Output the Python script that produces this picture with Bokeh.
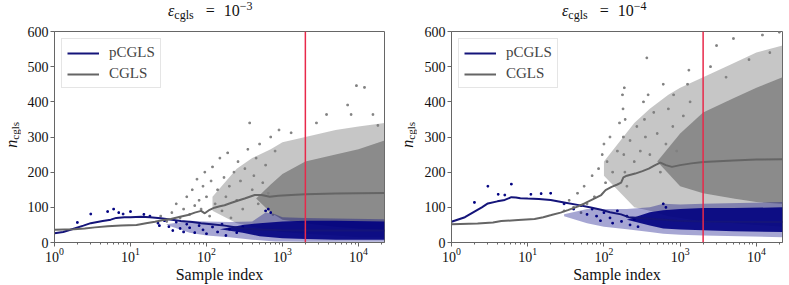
from bokeh.plotting import figure
from bokeh.layouts import row, column
from bokeh.models import Range1d, FixedTicker, LogTickFormatter, Span, Legend, LegendItem, Div
from bokeh.embed import file_html
from bokeh.resources import INLINE

FONT = "Liberation Serif"
X_MIN, X_MAX = 1, 22000
RED_X = 2000
X_TICKS = [1, 10, 100, 1000, 10000]
Y_TICKS = [0, 100, 200, 300, 400, 500, 600]
TITLE_EXP = ["\u22123", "\u22124"]
X_LABEL = "Sample index"

# ---------------- Panel A: eps = 1e-3 ----------------
a_cgls_x = [1, 1.8, 2.5, 3.4, 5, 7.5, 12, 16, 21, 27, 34, 45, 57, 70, 85, 95, 110, 127, 150, 173, 200, 250, 318, 432, 530, 680, 880, 1300, 2000, 5000, 10000, 22000]
a_cgls_y = [36, 38, 40, 43, 46, 48, 50, 55, 59, 64, 67, 73, 78, 85, 90, 83, 93, 99, 103, 106, 111, 118, 125, 135, 135, 130, 133, 135, 137, 139, 140, 141]
a_pcgls_x = [1, 1.3, 1.83, 2.4, 3, 4.3, 5.5, 6.5, 8.3, 10, 13.8, 18, 25, 35, 46, 65, 85, 116, 173, 250, 318, 500, 1000, 2000, 5000, 22000]
a_pcgls_y = [26, 30, 40, 48, 55, 61, 65, 70, 72, 72, 73, 72, 69, 65, 61, 58, 55, 52, 48, 43, 40, 37, 35, 34, 34, 34]

a_gray_outer_x = [120, 250, 400, 700, 1000, 2000, 5000, 10000, 22000]
a_gray_outer_lo = [90, 55, 45, 35, 30, 25, 20, 15, 15]
a_gray_outer_hi = [130, 210, 240, 265, 285, 300, 320, 330, 340]
a_gray_core_x = [450, 700, 1000, 2000, 5000, 10000, 22000]
a_gray_core_lo = [125, 85, 65, 55, 45, 40, 35]
a_gray_core_hi = [125, 165, 195, 230, 250, 265, 290]
a_blue_outer_x = [30, 60, 100, 200, 400, 600, 800, 1000, 2000, 22000]
a_blue_outer_lo = [50, 28, 20, 15, 8, 5, 3, 3, 2, 2]
a_blue_outer_hi = [52, 62, 60, 58, 60, 85, 80, 72, 70, 66]
a_blue_core_x = [150, 300, 500, 1000, 2000, 5000, 22000]
a_blue_core_lo = [38, 28, 18, 12, 10, 8, 8]
a_blue_core_hi = [38, 50, 55, 60, 62, 62, 60]

a_gray_pts_x = [25, 30, 35, 40, 45, 50, 55, 60, 65, 70, 75, 80, 85, 90, 95, 100, 110, 115, 120, 130, 140, 150, 160, 170, 180, 190, 200, 210, 230, 250, 260, 280, 300, 320, 350, 370, 400, 420, 450, 480, 500, 550, 600, 650, 700, 750, 800, 900, 1300, 2800, 3800, 7200, 8000, 9400, 12000, 15500, 18000]
a_gray_pts_y = [75, 60, 85, 110, 70, 95, 130, 80, 150, 105, 180, 120, 95, 160, 200, 130, 75, 175, 215, 110, 150, 240, 90, 185, 130, 255, 160, 70, 200, 120, 230, 175, 95, 210, 265, 340, 150, 190, 240, 110, 280, 170, 220, 140, 300, 80, 260, 320, 312, 340, 364, 391, 364, 446, 441, 364, 333]
a_blue_pts_x = [2, 3, 5, 6, 7, 8, 10, 15, 18, 23, 24, 28, 32, 36, 40, 45, 50, 55, 60, 70, 80, 90, 100, 120, 140, 160, 180, 200, 250, 300, 600, 650, 700]
a_blue_pts_y = [57, 81, 88, 95, 85, 81, 88, 80, 75, 55, 48, 62, 45, 34, 58, 40, 30, 52, 42, 28, 48, 36, 25, 44, 30, 52, 20, 38, 28, 45, 90, 95, 85]

# ---------------- Panel B: eps = 1e-4 ----------------
b_cgls_x = [1, 2.2, 3.5, 4.5, 7.5, 12.3, 16, 20.4, 27, 33.6, 45, 55.6, 70, 92, 105, 126, 150, 168, 180, 200, 257, 320, 387, 470, 550, 650, 780, 1000, 1400, 2000, 5000, 10000, 22000]
b_cgls_y = [52, 54, 57, 61, 64, 67, 72, 78, 85, 92, 102, 111, 122, 135, 149, 158, 165, 170, 185, 190, 196, 203, 210, 220, 227, 220, 215, 220, 225, 229, 233, 236, 237]
b_pcgls_x = [1, 1.5, 2.0, 2.5, 3.0, 4.0, 5.0, 6.1, 7, 8, 10, 14, 20, 30, 45, 65, 92, 120, 168, 210, 330, 500, 900, 2000, 5000, 22000]
b_pcgls_y = [59, 72, 88, 100, 111, 117, 121, 129, 128, 126, 125, 124, 121, 114, 107, 100, 93, 86, 80, 72, 69, 66, 62, 60, 59, 58]

b_gray_outer_x = [100, 250, 400, 700, 1000, 2000, 5000, 10000, 22000]
b_gray_outer_lo = [190, 100, 90, 75, 70, 60, 55, 50, 45]
b_gray_outer_hi = [230, 340, 380, 420, 440, 470, 510, 540, 560]
b_gray_core_x = [500, 1000, 2000, 5000, 10000, 22000]
b_gray_core_lo = [230, 160, 140, 125, 115, 110]
b_gray_core_hi = [230, 310, 370, 410, 440, 470]
b_blue_outer_x = [30, 60, 100, 200, 400, 600, 1000, 2000, 22000]
b_blue_outer_lo = [75, 55, 45, 38, 30, 25, 22, 20, 15]
b_blue_outer_hi = [80, 95, 95, 95, 100, 110, 108, 110, 115]
b_blue_core_x = [200, 400, 600, 1000, 2000, 5000, 22000]
b_blue_core_lo = [65, 48, 40, 37, 35, 32, 30]
b_blue_core_hi = [65, 86, 92, 95, 98, 98, 100]

b_gray_pts_x = [30, 35, 40, 45, 50, 55, 60, 70, 75, 85, 95, 100, 105, 110, 120, 130, 150, 160, 175, 178, 180, 182, 185, 188, 190, 200, 220, 250, 270, 300, 330, 340, 350, 365, 380, 400, 450, 500, 550, 600, 650, 700, 800, 820, 900, 1100, 1250, 1300, 1350, 2500, 3000, 4000, 5000, 8000, 12000, 15000, 20000]
b_gray_pts_y = [90, 120, 100, 140, 85, 160, 110, 190, 130, 210, 250, 280, 170, 230, 300, 200, 260, 340, 420, 380, 300, 250, 440, 200, 350, 160, 290, 230, 330, 260, 400, 350, 300, 525, 420, 250, 370, 310, 200, 450, 280, 380, 330, 420, 260, 360, 450, 490, 400, 500, 560, 470, 580, 520, 590, 540, 598]
b_blue_pts_x = [2, 3, 4.1, 5, 6.1, 11, 15, 20, 30, 40, 50, 60, 70, 80, 90, 100, 120, 130, 150, 170, 200, 220, 250, 280, 600, 650]
b_blue_pts_y = [114, 160, 137, 135, 166, 137, 139, 140, 110, 95, 105, 80, 95, 75, 62, 85, 70, 55, 90, 60, 75, 50, 65, 45, 110, 100]

GRAY = "#808080"
NAVY = "#000080"
LINE_NAVY = "#14147a"
LINE_GRAY = "#656565"
RED = "#e8294a"
AXIS = "#666666"
TXT = "#111111"

TITLE_H = 22
MAIN_H = 263
YLAB_W = 24


def title_div(width, left, exp_txt):
    html = (
        f'<div style="padding-left:{left}px; padding-top:2px; font-family:\'{FONT}\'; '
        f'font-size:16px; line-height:17px; white-space:nowrap; color:{TXT};">'
        '<i>\u03b5</i><span style="font-size:12px; position:relative; top:3px;">cgls</span>'
        '<span style="margin-left:12px;">=</span>'
        '<span style="margin-left:9px;">10</span>'
        '<span style="font-size:12px; position:relative; top:-6px;">'
        f'{exp_txt}</span></div>'
    )
    return Div(text=html, width=width, height=TITLE_H, margin=0)


def ylabel_div(height, top_pad):
    html = (
        f'<div style="height:{height}px; width:{YLAB_W}px; position:relative;">'
        f'<div style="position:absolute; left:4px; top:{top_pad}px; writing-mode:vertical-rl; '
        f'transform:rotate(180deg); font-family:\'{FONT}\'; font-size:16px; line-height:16px; '
        f'white-space:nowrap; color:{TXT};">'
        '<i>n</i><span style="font-size:11px; position:relative; left:-3px;">cgls</span>'
        '</div></div>'
    )
    return Div(text=html, width=YLAB_W, height=height, margin=0)


def make_main(width, bl, br, cg, pc, bands, gpts, bpts):
    p = figure(width=width, height=MAIN_H, x_axis_type="log",
               x_range=Range1d(X_MIN, X_MAX), y_range=Range1d(0, 600),
               output_backend="svg", toolbar_location=None,
               min_border_left=bl, min_border_right=br,
               min_border_top=9, min_border_bottom=30)
    p.xgrid.visible = False
    p.ygrid.visible = False
    p.outline_line_color = AXIS
    p.outline_line_width = 1
    p.background_fill_color = "white"
    p.border_fill_color = "white"

    minor = [m * 10 ** k for k in range(0, 5) for m in range(2, 10)]
    p.xaxis.ticker = FixedTicker(ticks=X_TICKS, minor_ticks=minor)
    p.xaxis.formatter = LogTickFormatter()
    p.yaxis.ticker = FixedTicker(ticks=Y_TICKS, minor_ticks=[])
    for ax in (p.xaxis, p.yaxis):
        ax.axis_line_color = AXIS
        ax.major_tick_line_color = AXIS
        ax.minor_tick_line_color = AXIS
        ax.major_tick_in = 0
        ax.major_tick_out = 4
        ax.minor_tick_in = 0
        ax.minor_tick_out = 2
        ax.major_label_text_font = FONT
        ax.major_label_text_font_size = "14px"
        ax.major_label_text_color = TXT
    p.xaxis.major_label_standoff = 1
    p.yaxis.major_label_standoff = 2
    p.yaxis.minor_tick_line_color = None
    p.xaxis.axis_label = X_LABEL
    p.xaxis.axis_label_text_font = FONT
    p.xaxis.axis_label_text_font_size = "16px"
    p.xaxis.axis_label_text_font_style = "normal"
    p.xaxis.axis_label_text_color = TXT
    p.xaxis.axis_label_standoff = 1

    (go, gc, bo, bc) = bands
    p.varea(x=go[0], y1=go[1], y2=go[2], fill_color=GRAY, fill_alpha=0.45)
    p.varea(x=gc[0], y1=gc[1], y2=gc[2], fill_color=GRAY, fill_alpha=0.85)
    p.scatter(gpts[0], gpts[1], size=1.6, color=GRAY, marker="square")
    p.varea(x=bo[0], y1=bo[1], y2=bo[2], fill_color=NAVY, fill_alpha=0.35)
    p.varea(x=bc[0], y1=bc[1], y2=bc[2], fill_color=NAVY, fill_alpha=0.9)
    p.scatter(bpts[0], bpts[1], size=1.6, color=NAVY, marker="square")

    r_pc = p.line(pc[0], pc[1], line_color=LINE_NAVY, line_width=2)
    r_cg = p.line(cg[0], cg[1], line_color=LINE_GRAY, line_width=2)

    p.add_layout(Span(location=RED_X, dimension="height", line_color=RED, line_width=1.5))

    legend = Legend(items=[LegendItem(label="pCGLS", renderers=[r_pc]),
                           LegendItem(label="CGLS", renderers=[r_cg])],
                    location="top_left", margin=7, padding=5, spacing=4,
                    glyph_width=32, glyph_height=16, label_standoff=10,
                    label_text_font=FONT, label_text_font_size="15px",
                    border_line_color="#cccccc", border_line_width=1,
                    background_fill_alpha=0.85)
    p.add_layout(legend)
    return p


def make_panel(panel_w, main_bl, main_br, title_x, exp_txt, cg, pc, bands, gpts, bpts):
    main_w = panel_w - YLAB_W
    t = title_div(panel_w, title_x, exp_txt)
    yl = ylabel_div(MAIN_H, 100)
    m = make_main(main_w, main_bl, main_br, cg, pc, bands, gpts, bpts)
    return column(t, row(yl, m))


pA = make_panel(396, 29, 12, 168, TITLE_EXP[0],
                (a_cgls_x, a_cgls_y), (a_pcgls_x, a_pcgls_y),
                ((a_gray_outer_x, a_gray_outer_lo, a_gray_outer_hi),
                 (a_gray_core_x, a_gray_core_lo, a_gray_core_hi),
                 (a_blue_outer_x, a_blue_outer_lo, a_blue_outer_hi),
                 (a_blue_core_x, a_blue_core_lo, a_blue_core_hi)),
                (a_gray_pts_x, a_gray_pts_y), (a_blue_pts_x, a_blue_pts_y))
pB = make_panel(391, 31, 5, 166, TITLE_EXP[1],
                (b_cgls_x, b_cgls_y), (b_pcgls_x, b_pcgls_y),
                ((b_gray_outer_x, b_gray_outer_lo, b_gray_outer_hi),
                 (b_gray_core_x, b_gray_core_lo, b_gray_core_hi),
                 (b_blue_outer_x, b_blue_outer_lo, b_blue_outer_hi),
                 (b_blue_core_x, b_blue_core_lo, b_blue_core_hi)),
                (b_gray_pts_x, b_gray_pts_y), (b_blue_pts_x, b_blue_pts_y))

layout = row(pA, pB)
open("out.html", "w").write(file_html(layout, INLINE))
